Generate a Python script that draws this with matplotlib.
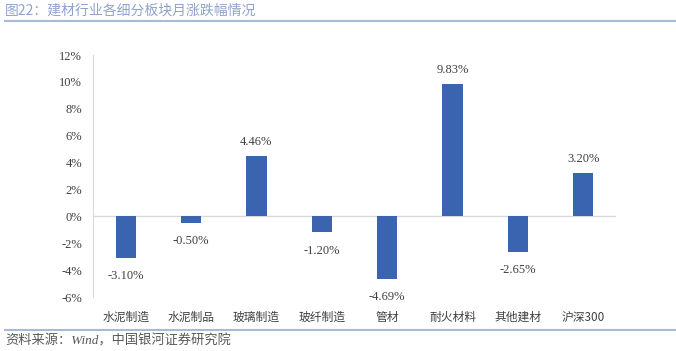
import matplotlib.pyplot as plt
from matplotlib.ticker import FuncFormatter

# 数据
categories = ["水泥制造", "水泥制品", "玻璃制造", "玻纤制造", "管材", "耐火材料", "其他建材", "沪深300"]
values = [-3.10, -0.50, 4.46, -1.20, -4.69, 9.83, -2.65, 3.20]
yticks = [-6, -4, -2, 0, 2, 4, 6, 8, 10, 12]

title = "图22：建材行业各细分板块月涨跌幅情况"
source = "资料来源：Wind，中国银河证券研究院"

cjk = ["Noto Sans CJK SC", "DejaVu Sans"]
serif = ["Liberation Serif", "Noto Sans CJK SC"]

fig = plt.figure(figsize=(6.76, 3.51), dpi=100)
ax = fig.add_axes([93 / 676, 1 - 297 / 351, 523 / 676, 242 / 351])

x = range(len(categories))
ax.bar(x, values, width=0.31, color="#3a63b0", zorder=3)

for i, v in enumerate(values):
    off = 0.6 if v >= 0 else -0.9
    ax.text(i, v + off, f"{v:.2f}%", ha="center", va="bottom" if v >= 0 else "top",
            fontsize=9, family=serif, color="#404040")

ax.set_xlim(-0.5, len(categories) - 0.5)
ax.set_ylim(-6, 12)
ax.set_yticks(yticks)
ax.yaxis.set_major_formatter(FuncFormatter(lambda v, p: f"{v:.0f}%"))
for lab in ax.get_yticklabels():
    lab.set_family(serif)
    lab.set_fontsize(9)
    lab.set_color("#404040")

ax.set_xticks(list(x))
ax.set_xticklabels(categories, family=cjk, fontsize=8.5, color="#404040")
ax.tick_params(axis="x", length=0, pad=10)
ax.tick_params(axis="y", length=0, pad=8)

ax.axhline(0, color="#d9d9d9", lw=1, zorder=2)
for s in ["top", "right", "bottom"]:
    ax.spines[s].set_visible(False)
ax.spines["left"].set_color("#d9d9d9")

# 标题和来源
fig.text(5 / 676, 1 - 11 / 351, title, family=cjk, fontsize=10, color="#8fa3cc", va="center")
fig.add_artist(plt.Line2D([5 / 676, 675 / 676], [1 - 21 / 351] * 2, color="#a9b9d9", lw=1.5))
fig.add_artist(plt.Line2D([5 / 676, 675 / 676], [1 - 330 / 351] * 2, color="#a9b9d9", lw=1.5))
fig.text(5 / 676, 1 - 341 / 351, source, family=serif, fontsize=9.5, style="italic",
         color="#595959", va="center")

fig.savefig("out.png", dpi=100)
